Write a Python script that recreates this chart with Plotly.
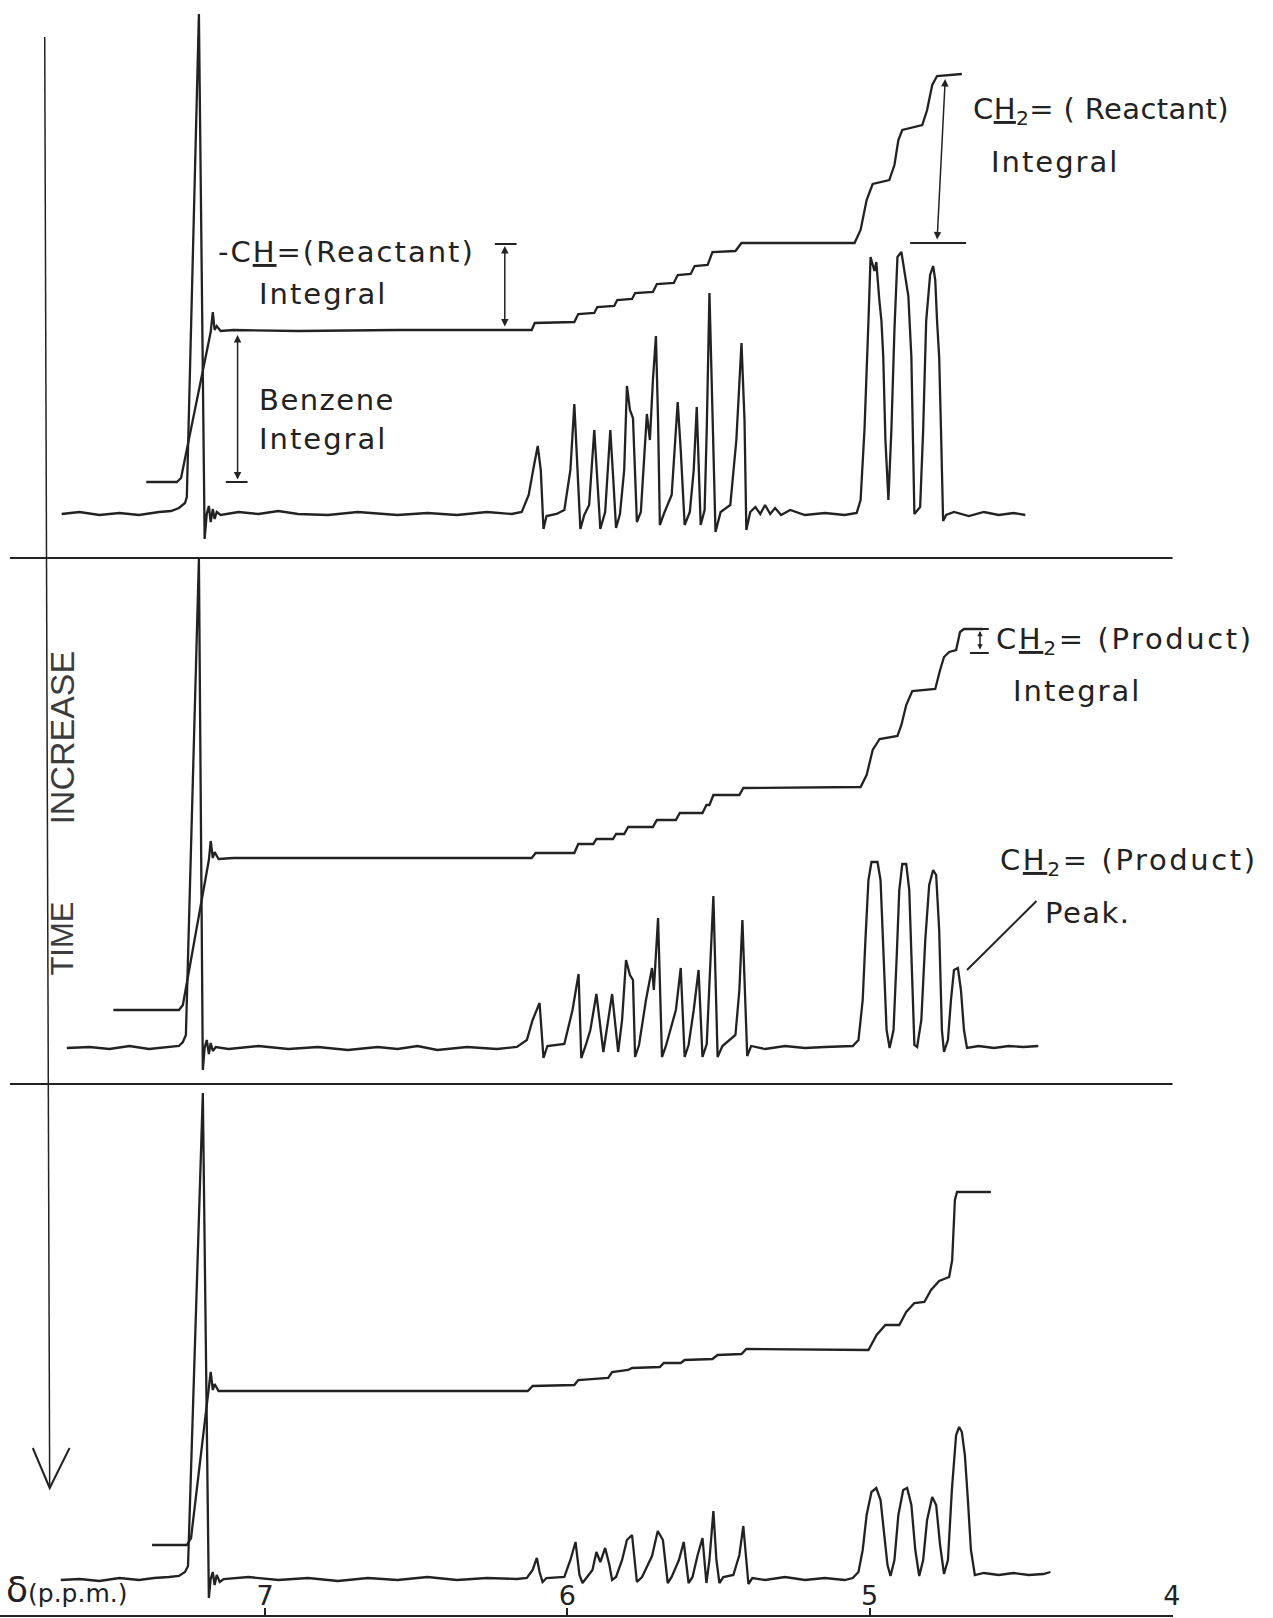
import plotly.graph_objects as go

# ---------------- data ----------------
# x: chemical shift delta (p.p.m.), y: recorder deflection (arbitrary units, baseline = 0)
TICK_VALUES = [7, 6, 5, 4]
TICK_LABELS = ["7", "6", "5", "4"]

TOP_SPECTRUM = [
    (7.673, 0), (7.614, 2), (7.548, -1), (7.482, 1), (7.417, -1), (7.351, 2), (7.311, 3), (7.285, 6), (7.265, 11), (7.259, 17),
    (7.219, 500), (7.200, -25), (7.193, 0), (7.186, 8), (7.180, -8), (7.173, 5), (7.167, -5), (7.160, 2), (7.147, -1),
    (7.088, 2), (7.022, 0), (6.956, 3), (6.891, 0), (6.792, -1), (6.693, 2), (6.562, -1), (6.463, 1), (6.365, -1), (6.266, 2), (6.184, 0), (6.151, 2),
    (6.128, 19), (6.112, 46), (6.098, 68), (6.088, 44), (6.079, -15), (6.069, -2), (6.036, 0), (6.010, 4),
    (5.990, 44), (5.977, 110), (5.967, 54), (5.957, -15), (5.944, -1), (5.928, 9),
    (5.911, 84), (5.901, 34), (5.891, -15), (5.875, 2),
    (5.858, 84), (5.848, 34), (5.839, -14), (5.826, 0), (5.812, 44),
    (5.803, 128), (5.793, 104), (5.783, 96), (5.776, 44), (5.770, -8), (5.757, 2),
    (5.743, 64), (5.737, 100), (5.727, 74), (5.717, 134), (5.707, 178), (5.700, 94), (5.694, -11), (5.681, 0), (5.655, 19),
    (5.635, 112), (5.625, 64), (5.612, -11), (5.595, 2), (5.582, 44),
    (5.572, 107), (5.566, 54), (5.559, -11), (5.546, 4), (5.539, 84),
    (5.530, 221), (5.520, 94), (5.510, -18), (5.493, 2), (5.461, 9),
    (5.441, 74), (5.424, 171), (5.414, 94), (5.408, -16), (5.395, 2),
    (5.378, 7), (5.362, 0), (5.346, 9), (5.329, 0), (5.313, 6), (5.293, -1), (5.263, 4), (5.214, -1), (5.148, 1), (5.083, -1), (5.043, 1),
    (5.030, 14), (5.017, 85), (5.004, 193), (4.997, 257), (4.984, 243), (4.978, 252), (4.968, 214), (4.961, 193), (4.955, 157), (4.948, 75), (4.938, 14),
    (4.928, 85), (4.918, 184), (4.908, 257), (4.895, 262), (4.885, 243), (4.872, 218), (4.862, 157), (4.852, 0),
    (4.833, 7), (4.823, 84), (4.813, 193), (4.800, 239), (4.790, 248), (4.783, 234), (4.777, 193), (4.770, 157), (4.764, 84), (4.757, -7), (4.747, -1),
    (4.721, 2), (4.672, -2), (4.622, 2), (4.573, -1), (4.524, 1), (4.485, -1),
]

TOP_INTEGRAL = [
    (7.393, 32), (7.292, 32), (7.278, 36), (7.180, 182), (7.173, 202), (7.167, 184), (7.160, 188), (7.147, 183),
    (7.104, 184), (6.891, 183), (6.562, 184), (6.118, 184), (6.108, 191), (5.977, 192), (5.964, 200), (5.911, 201),
    (5.901, 207), (5.845, 208), (5.835, 214), (5.786, 215), (5.776, 221), (5.717, 222), (5.704, 230), (5.648, 231),
    (5.635, 239), (5.592, 240), (5.579, 248), (5.536, 249), (5.520, 262), (5.444, 263), (5.424, 271), (5.050, 271),
    (5.030, 284), (5.010, 314), (4.990, 330), (4.935, 334), (4.918, 349), (4.905, 374), (4.892, 384), (4.826, 389),
    (4.810, 404), (4.793, 429), (4.777, 438), (4.695, 440),
]

MID_SPECTRUM = [
    (7.656, 0), (7.581, 1), (7.515, -1), (7.449, 2), (7.384, -1), (7.318, 1), (7.285, 2), (7.272, 6), (7.262, 13),
    (7.219, 489), (7.206, -22), (7.200, 0), (7.193, 8), (7.186, -6), (7.180, 5), (7.173, -3), (7.163, 1),
    (7.121, -1), (7.022, 2), (6.923, -1), (6.825, 1), (6.726, -2), (6.628, 1), (6.562, -1), (6.496, 2), (6.430, -2), (6.332, 1), (6.233, -1), (6.167, 1),
    (6.134, 8), (6.115, 28), (6.092, 45), (6.079, -10), (6.066, 2), (6.029, 3), (6.010, 4),
    (5.983, 38), (5.963, 74), (5.954, -10), (5.940, 2), (5.924, 18),
    (5.904, 54), (5.881, -4),
    (5.865, 28), (5.852, 54), (5.832, -4), (5.819, 28),
    (5.806, 88), (5.793, 73), (5.783, 68), (5.776, -9), (5.763, 3),
    (5.740, 48), (5.720, 80), (5.714, 58), (5.700, 130), (5.687, -9), (5.674, 2),
    (5.641, 38), (5.625, 80), (5.612, -9), (5.599, 3),
    (5.582, 38), (5.566, 78), (5.553, -9), (5.539, 4),
    (5.526, 88), (5.517, 152), (5.503, -9), (5.487, 2),
    (5.444, 13), (5.431, 58), (5.421, 128), (5.411, 48), (5.405, -8), (5.392, 2),
    (5.346, -1), (5.280, 2), (5.214, 0), (5.148, 1), (5.083, 2), (5.056, 2),
    (5.037, 8), (5.023, 48), (5.014, 108), (5.004, 168), (4.994, 186), (4.974, 186), (4.964, 168), (4.954, 98), (4.944, 18), (4.934, 0),
    (4.921, 18), (4.911, 88), (4.902, 158), (4.892, 184), (4.879, 184), (4.869, 158), (4.859, 68), (4.852, 3), (4.843, 1),
    (4.829, 28), (4.816, 108), (4.803, 163), (4.790, 178), (4.780, 173), (4.770, 118), (4.761, 18), (4.754, -4),
    (4.741, 8), (4.731, 48), (4.721, 78), (4.708, 80), (4.698, 58), (4.688, 18), (4.678, 0),
    (4.639, 2), (4.589, 0), (4.540, 2), (4.491, 1), (4.442, 2),
]

MID_INTEGRAL = [
    (7.502, 38), (7.285, 38), (7.272, 43), (7.186, 188), (7.180, 207), (7.173, 190), (7.167, 196), (7.154, 189),
    (7.104, 190), (6.562, 190), (6.118, 190), (6.105, 195), (5.977, 195), (5.964, 204), (5.914, 204), (5.904, 209),
    (5.849, 209), (5.839, 214), (5.812, 214), (5.799, 221), (5.717, 221), (5.704, 228), (5.641, 228), (5.628, 235),
    (5.553, 235), (5.540, 243), (5.530, 243), (5.517, 253), (5.431, 253), (5.418, 260), (5.030, 261), (5.010, 273),
    (4.990, 298), (4.967, 309), (4.908, 312), (4.895, 323), (4.879, 343), (4.859, 357), (4.783, 359), (4.767, 378),
    (4.754, 391), (4.737, 396), (4.714, 398), (4.701, 416), (4.688, 419), (4.626, 419),
]

BOT_SPECTRUM = [
    (7.676, -1), (7.614, 0), (7.548, -2), (7.482, 1), (7.417, -1), (7.367, 1), (7.318, 2), (7.285, 3), (7.265, 7), (7.255, 13),
    (7.206, 486), (7.186, -19), (7.180, 0), (7.173, 7), (7.167, -6), (7.160, 4), (7.150, -3), (7.137, 0),
    (7.055, 2), (6.956, -1), (6.858, 1), (6.759, -2), (6.660, 1), (6.562, -1), (6.463, 2), (6.365, -1), (6.266, 1), (6.167, 0), (6.134, 1),
    (6.115, 9), (6.101, 21), (6.092, 7), (6.082, -3), (6.069, 1), (6.010, 2),
    (5.990, 19), (5.973, 37), (5.960, 4), (5.950, -4), (5.934, 2),
    (5.917, 9), (5.904, 27), (5.891, 17), (5.875, 31), (5.861, 14), (5.852, -1), (5.839, 2),
    (5.819, 19), (5.803, 39), (5.786, 44), (5.770, -3), (5.753, 2),
    (5.720, 23), (5.701, 48), (5.684, 39), (5.668, -4), (5.655, 2),
    (5.631, 19), (5.615, 37), (5.599, -4), (5.586, 2),
    (5.569, 24), (5.553, 41), (5.540, -4),
    (5.530, 19), (5.517, 68), (5.507, 19), (5.497, -4), (5.484, 2), (5.451, 4),
    (5.431, 24), (5.418, 53), (5.408, 14), (5.401, -5), (5.388, 1),
    (5.346, -1), (5.280, 2), (5.214, -1), (5.148, 1), (5.083, -1), (5.056, 1),
    (5.037, 7), (5.023, 29), (5.010, 64), (4.994, 87), (4.978, 91), (4.964, 79), (4.951, 44), (4.941, 14), (4.931, 3),
    (4.918, 19), (4.905, 64), (4.889, 89), (4.876, 91), (4.862, 74), (4.849, 29), (4.836, 3),
    (4.823, 19), (4.810, 59), (4.793, 82), (4.780, 74), (4.767, 34), (4.754, 5),
    (4.741, 19), (4.728, 89), (4.714, 144), (4.704, 152), (4.695, 147), (4.685, 124), (4.675, 79), (4.665, 29), (4.652, 4),
    (4.622, 6), (4.573, 4), (4.524, 6), (4.474, 4), (4.425, 5), (4.402, 7),
]

BOT_INTEGRAL = [
    (7.374, 34), (7.259, 34), (7.245, 41), (7.186, 190), (7.180, 207), (7.173, 189), (7.167, 195), (7.154, 188),
    (7.088, 188), (6.562, 188), (6.131, 188), (6.115, 193), (5.977, 194), (5.964, 199), (5.865, 201), (5.852, 207),
    (5.799, 209), (5.786, 211), (5.694, 212), (5.681, 216), (5.625, 216), (5.612, 219), (5.520, 220), (5.503, 224),
    (5.424, 225), (5.408, 230), (5.004, 229), (4.977, 244), (4.948, 254), (4.902, 254), (4.879, 267), (4.852, 276),
    (4.819, 277), (4.797, 289), (4.770, 298), (4.737, 302), (4.727, 319), (4.718, 379), (4.711, 387), (4.599, 387),
]

# ---------------- styling ----------------
INK = "#222222"
FONT = "DejaVu Sans"
W, H = 1265, 1618   # figure box (page is 1273 wide; the last few px stay white)
PH = 1615           # plot-area height (bottom margin 3 px)

fig = go.Figure()

curves = [
    (TOP_SPECTRUM, "y"), (TOP_INTEGRAL, "y"),
    (MID_SPECTRUM, "y2"), (MID_INTEGRAL, "y2"),
    (BOT_SPECTRUM, "y3"), (BOT_INTEGRAL, "y3"),
]
for pts, yax in curves:
    xs = [p[0] for p in pts]
    ys = [p[1] for p in pts]
    fig.add_trace(go.Scatter(x=xs, y=ys, mode="lines", xaxis="x", yaxis=yax,
                             line=dict(color=INK, width=2.3), hoverinfo="skip",
                             showlegend=False, cliponaxis=False))

# ---------------- annotations ----------------
def label(text, X, Y, size=29, anchor="left", angle=0, color=INK, family=FONT, spacing=1.5):
    if spacing:
        text = f"<span style='letter-spacing:{spacing}px'>{text}</span>"
    fig.add_annotation(text=text, xref="paper", yref="paper", x=X / W, y=1 - Y / PH,
                       xanchor=anchor, yanchor="middle", showarrow=False, borderpad=0,
                       textangle=angle, font=dict(family=family, size=size, color=color))

label("C<u>H</u><sub>2</sub>= ( Reactant)", 978, 111, spacing=0.4)
label("Integral", 996, 162, spacing=2)
label("-C<u>H</u>=(Reactant)", 218, 252, spacing=2)
label("Integral", 260, 294, spacing=2)
label("Benzene", 260, 400)
label("Integral", 260, 439, spacing=2)
label("C<u>H</u><sub>2</sub>= (Product)", 1001, 641, spacing=2.6)
label("Integral", 1018, 691, spacing=2)
label("C<u>H</u><sub>2</sub>= (Product)", 1005, 862, spacing=2.6)
label("Peak.", 1051, 913)
label("INCREASE", 62, 738, size=34, anchor="center", angle=-90, color="#3c3c3c",
      family="Liberation Sans", spacing=0)
label("TIME", 62, 939, size=31, anchor="center", angle=-90, color="#3c3c3c",
      family="Liberation Sans", spacing=0)
label("<span style='font-size:36px'>δ</span>(p.p.m.)", 5, 1589, size=25, spacing=0)

def arrow(x, y, ax, ay, yref, size=1.0):
    fig.add_annotation(x=x, y=y, ax=ax, ay=ay, xref="x", yref=yref, axref="x", ayref=yref,
                       text="", showarrow=True, arrowhead=2, arrowside="end+start",
                       arrowsize=size, arrowwidth=1.5, arrowcolor=INK)

arrow(6.207, 268, 6.207, 186, "y")        # -CH= reactant integral
arrow(4.750, 435, 4.777, 273, "y")        # CH2= reactant integral
arrow(7.091, 179, 7.091, 33, "y")         # benzene integral
arrow(4.635, 417, 4.635, 397, "y2", 0.7)  # CH2= product integral

shapes = []
def seg(x0, y0, x1, y1, xref, yref, width=2):
    shapes.append(dict(type="line", x0=x0, y0=y0, x1=x1, y1=y1, xref=xref, yref=yref,
                       line=dict(color=INK, width=width)))

# bars of the integral markers (data coordinates)
seg(6.240, 270, 6.168, 270, "x", "y")
seg(4.866, 271, 4.681, 271, "x", "y")
seg(7.130, 32, 7.058, 32, "x", "y")
seg(4.668, 419, 4.606, 419, "x", "y2")
seg(4.668, 395, 4.606, 395, "x", "y2")
seg(4.448, 147, 4.678, 78, "x", "y2")   # leader to product peak

# panel separators
seg(10 / W, 1 - 558 / PH, 1180 / W, 1 - 558 / PH, "paper", "paper", 2.2)
seg(10 / W, 1 - 1084 / PH, 1180 / W, 1 - 1084 / PH, "paper", "paper", 2.2)
# time arrow
seg(45 / W, 1 - 37 / PH, 50 / W, 1 - 1487 / PH, "paper", "paper", 1.5)
shapes.append(dict(type="path", xref="paper", yref="paper",
                   path=f"M {33/W} {1-1448/PH} L {50/W} {1-1488/PH} L {70/W} {1-1448/PH}",
                   line=dict(color=INK, width=2)))

fig.update_layout(
    width=W, height=H,
    margin=dict(l=0, r=0, t=0, b=H - PH),
    paper_bgcolor="white", plot_bgcolor="white",
    shapes=shapes,
    xaxis=dict(domain=[0, 1180 / W], range=[7.877, 3.998], anchor="y3",
               showline=True, linecolor=INK, linewidth=2, ticks="inside", ticklen=7,
               tickcolor=INK, tickwidth=2,
               tickvals=TICK_VALUES, ticktext=TICK_LABELS,
               ticklabelposition="inside", ticklabeloverflow="allow",
               tickfont=dict(family=FONT, size=27, color=INK),
               showgrid=False, zeroline=False),
    yaxis=dict(domain=[1 - 558 / PH, 1], range=[-44, 514], anchor="x", visible=False),
    yaxis2=dict(domain=[1 - 1084 / PH, 1 - 558 / PH], range=[-36, 490], anchor="x", visible=False),
    yaxis3=dict(domain=[0, 1 - 1084 / PH], range=[-36, 495], anchor="x", visible=False),
)

fig.write_html("out.html", config={"displayModeBar": False},
               post_script="document.body.style.margin='0px';document.body.style.overflow='hidden';")
